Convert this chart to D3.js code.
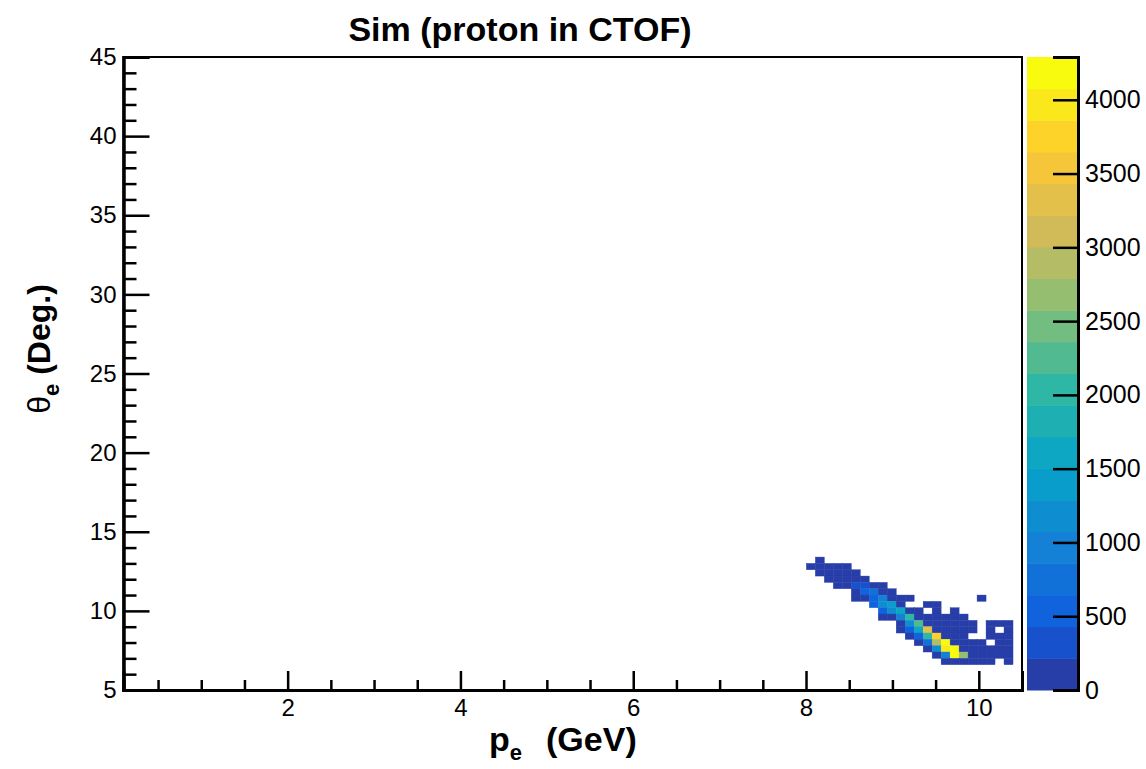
<!DOCTYPE html>
<html><head><meta charset="utf-8">
<script src="https://cdn.jsdelivr.net/npm/d3@7"></script>
<style>
body{margin:0;background:#fff;}
svg{display:block;font-family:"Liberation Sans",Arial,Helvetica,sans-serif;}
</style>
</head><body>
<svg id="chart" width="1146" height="769"></svg>
<script>
// ---------------- data ----------------
const chartTitle = "Sim (proton in CTOF)";
const xTitleMain = "p", xTitleSub = "e", xTitleRest = "(GeV)";
const yTitleMain = "\u03b8", yTitleSub = "e", yTitleRest = " (Deg.)";
const xDomain = [0.1, 10.5];
const yDomain = [5, 45];
const xMajorTicks = [2, 4, 6, 8, 10];
const xMinorTicks = [0.5,1,1.5,2.5,3,3.5,4.5,5,5.5,6.5,7,7.5,8.5,9,9.5,10.5];
const yMajorTicks = [5, 10, 15, 20, 25, 30, 35, 40, 45];
const yMinorTicks = [6,7,8,9,11,12,13,14,16,17,18,19,21,22,23,24,26,27,28,29,31,32,33,34,36,37,38,39,41,42,43,44];
const zTicks = [0, 500, 1000, 1500, 2000, 2500, 3000, 3500, 4000];
const zMax = 4290;
const nContours = 20;
const pBinWidth = 0.104;     // GeV
const thetaBinWidth = 0.4;   // deg
// histogram rows: theta low edge, p low edge of first bin, bin contents (null = empty)
const rowTheta  = [13.0, 12.6, 12.2, 11.8, 11.4, 11.0, 10.6, 10.2, 9.8, 9.4, 9.0, 8.6, 8.2, 7.8, 7.4, 7.0, 6.6];
const rowPStart = [8.108, 8.004, 8.108, 8.212, 8.316, 8.524, 8.524, 8.732, 8.836, 8.836, 9.044, 9.044, 9.148, 9.252, 9.356, 9.46, 9.564];
const rowCounts = [
  [35],
  [28, 62, 71, 48, 30],
  [44, 96, 110, 85, 52],
  [58, 124, 168, 140, 66],
  [72, 190, 330, 310, 150, 45],
  [160, 540, 760, 180, 40],
  [55, 190, 560, 980, 170, 60, 25, null, null, null, null, null, null, null, 22],
  [520, 1190, 1420, 140, null, null, 38, 30],
  [530, 1200, 1620, 160, 70, null, 45, null, 20],
  [60, 180, 960, 2050, 190, 95, 80, 64, 42, 26],
  [120, 1170, 2260, 200, 110, 90, 70, 50, 30, null, 24, 32, 21],
  [40, 550, 1630, 3330, 180, 120, 96, 64, 36, null, 28, null, 22],
  [70, 540, 2040, 3770, 170, 110, 60, null, null, 30, 26, 35],
  [90, 760, 2900, 4260, 200, 120, 70, 40, null, 28, 36],
  [100, 1180, 3990, 4290, 190, 110, 70, 50, 40, 30],
  [80, 970, 4230, 2700, 160, 100, 60, 45, 30],
  [60, 90, 110, 70, 50, 35, null, 25]
];
// ROOT kBird palette stops
const palStops = [0.0000, 0.1250, 0.2500, 0.3750, 0.5000, 0.6250, 0.7500, 0.8750, 1.0000];
const palRed   = [0.2082, 0.0592, 0.0780, 0.0232, 0.1802, 0.5301, 0.8186, 0.9956, 0.9764];
const palGreen = [0.1664, 0.3599, 0.5041, 0.6419, 0.7178, 0.7492, 0.7328, 0.7862, 0.9832];
const palBlue  = [0.5293, 0.8684, 0.8385, 0.7914, 0.6425, 0.4662, 0.3499, 0.1968, 0.0539];

// ---------------- layout ----------------
const frame = {left: 123.5, right: 1022, top: 57, bottom: 690};
const cbar = {left: 1027, right: 1078};

const svg = d3.select("#chart");
const x = d3.scaleLinear().domain(xDomain).range([frame.left, frame.right]);
const y = d3.scaleLinear().domain(yDomain).range([frame.bottom, frame.top]);
const z = d3.scaleLinear().domain([0, zMax]).range([frame.bottom, frame.top]);

const rS = d3.scaleLinear().domain(palStops).range(palRed);
const gS = d3.scaleLinear().domain(palStops).range(palGreen);
const bS = d3.scaleLinear().domain(palStops).range(palBlue);
const nColors = 255;
function bandColor(band) {
  let idx = Math.floor((band + 0.99) * nColors / nContours);
  if (idx > nColors - 1) idx = nColors - 1;
  const t = idx / (nColors - 1);
  return d3.rgb(rS(t) * 255, gS(t) * 255, bS(t) * 255).formatHex();
}
const dz = zMax / nContours;
function valueColor(v) {
  let band = Math.floor(0.01 + v / dz);
  if (band > nContours - 1) band = nContours - 1;
  return bandColor(band);
}

// cells
const cells = [];
rowCounts.forEach((row, r) => {
  row.forEach((v, i) => {
    if (v == null) return;
    cells.push({p: rowPStart[r] + i * pBinWidth, t: rowTheta[r], v: v});
  });
});
svg.append("g").selectAll("rect").data(cells).join("rect")
  .attr("x", d => x(d.p))
  .attr("y", d => y(d.t + thetaBinWidth))
  .attr("width", d => x(d.p + pBinWidth) - x(d.p))
  .attr("height", d => y(d.t) - y(d.t + thetaBinWidth))
  .attr("fill", d => valueColor(d.v))
  .attr("stroke", d => valueColor(d.v))
  .attr("stroke-width", 0.4);

// frame
svg.append("rect").attr("x", frame.left).attr("y", frame.top)
  .attr("width", frame.right - frame.left).attr("height", frame.bottom - frame.top)
  .attr("fill", "none").attr("stroke", "#000").attr("stroke-width", 2);

// y axis
const tickFont = 24;
const yAx = svg.append("g").attr("transform", `translate(${frame.left},0)`);
yAx.call(d3.axisLeft(y).tickValues(yMajorTicks).tickSize(-26).tickPadding(7).tickFormat(d3.format("d")));
const yAxMin = svg.append("g").attr("transform", `translate(${frame.left},0)`);
yAxMin.call(d3.axisLeft(y).tickValues(yMinorTicks).tickSize(-13).tickFormat(""));
// x axis
const xAx = svg.append("g").attr("transform", `translate(0,${frame.bottom})`);
xAx.call(d3.axisBottom(x).tickValues(xMajorTicks).tickSize(-19).tickPadding(9).tickFormat(d3.format("d")));
const xAxMin = svg.append("g").attr("transform", `translate(0,${frame.bottom})`);
xAxMin.call(d3.axisBottom(x).tickValues(xMinorTicks).tickSize(-10).tickFormat(""));
[yAx, yAxMin, xAx, xAxMin].forEach(g => {
  g.select(".domain").attr("stroke", "#000").attr("stroke-width", 3);
  g.selectAll(".tick line").attr("stroke", "#000").attr("stroke-width", 2.5);
  g.selectAll(".tick text").attr("fill", "#000").attr("font-size", tickFont)
    .attr("font-family", "Liberation Sans, Arial, sans-serif");
});

// colour bar
const bands = d3.range(nContours);
svg.append("g").selectAll("rect").data(bands).join("rect")
  .attr("x", cbar.left)
  .attr("y", b => z((b + 1) * dz))
  .attr("width", cbar.right - cbar.left)
  .attr("height", b => z(b * dz) - z((b + 1) * dz) + 0.5)
  .attr("fill", b => bandColor(b));
const zAx = svg.append("g").attr("transform", `translate(${cbar.right},0)`);
zAx.call(d3.axisRight(z).tickValues(zTicks).tickSize(-25).tickPadding(7).tickFormat(d3.format("d")));
zAx.select(".domain").attr("stroke", "#000").attr("stroke-width", 3);
zAx.selectAll(".tick line").attr("stroke", "#000").attr("stroke-width", 2.5);
zAx.selectAll(".tick text").attr("fill", "#000").attr("font-size", 25)
  .attr("font-family", "Liberation Sans, Arial, sans-serif");

// titles
svg.append("text").attr("x", 520).attr("y", 41).attr("text-anchor", "middle")
  .attr("font-size", 34).attr("font-weight", "bold").text(chartTitle);

const xt = svg.append("text").attr("x", 489).attr("y", 751).attr("text-anchor", "start")
  .attr("font-size", 34).attr("font-weight", "bold");
xt.append("tspan").text(xTitleMain);
xt.append("tspan").attr("font-size", 22).attr("dy", 9).text(xTitleSub);
xt.append("tspan").attr("dy", -9).attr("dx", 24).text(xTitleRest);

const yt = svg.append("text").attr("transform", "translate(50,349) rotate(-90)")
  .attr("text-anchor", "middle").attr("font-size", 32).attr("font-weight", "bold");
yt.append("tspan").attr("font-weight", "normal").text(yTitleMain);
yt.append("tspan").attr("font-size", 22).attr("dy", 9).text(yTitleSub);
yt.append("tspan").attr("dy", -9).text(yTitleRest);
</script>
</body></html>
